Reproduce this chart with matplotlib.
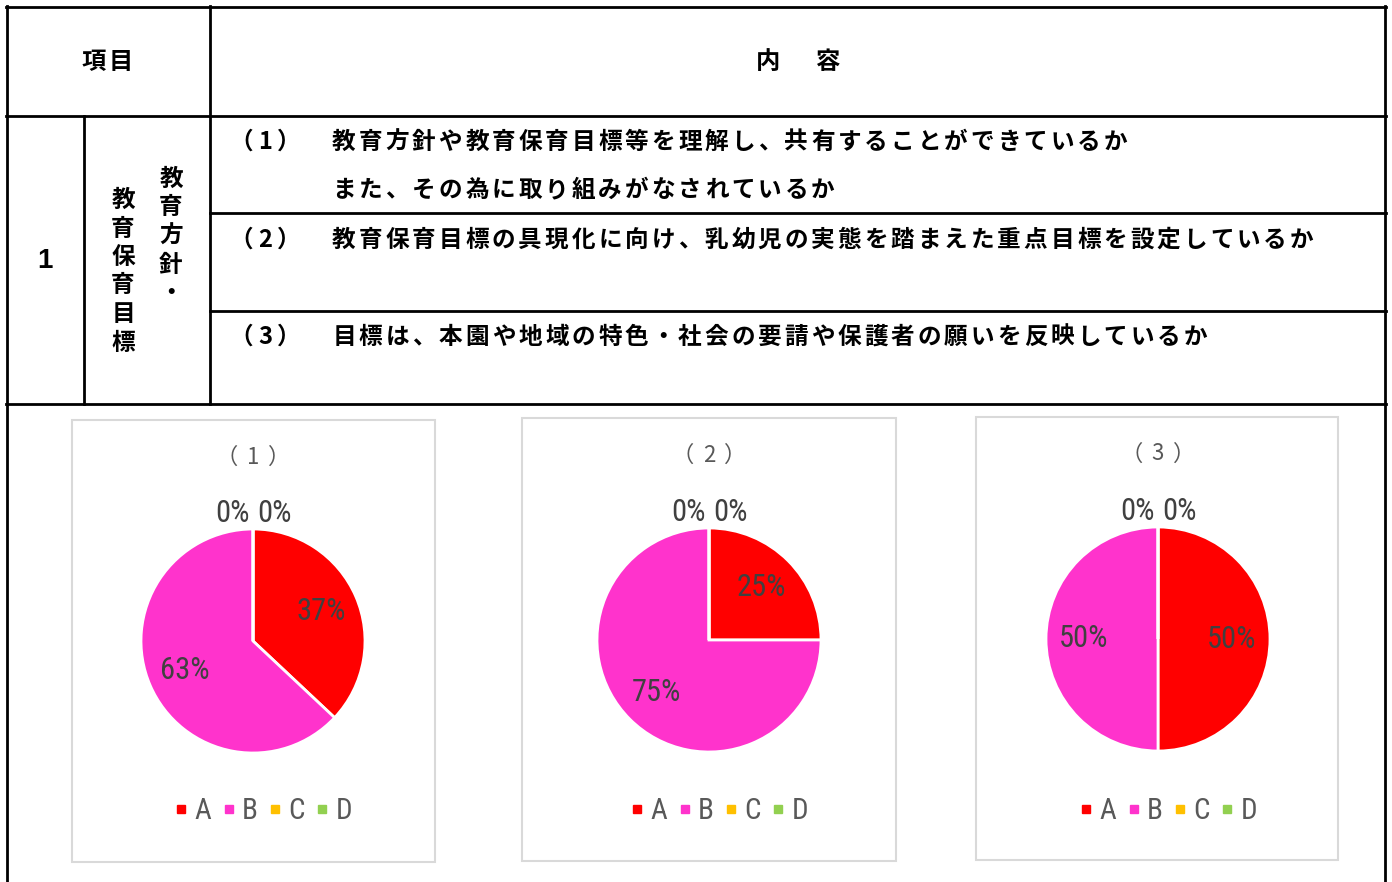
import matplotlib
matplotlib.use("Agg")
import numpy as np
import matplotlib.pyplot as plt
from matplotlib.patches import Rectangle
from matplotlib.lines import Line2D

plt.rcParams['font.family'] = ['Noto Sans CJK JP', 'DejaVu Sans']

# ── データ ──────────────────────────────────────────
categories = ["A", "B", "C", "D"]
colors = ["#FF0000", "#FF33CC", "#FFC000", "#92D050"]
pie_titles = ["（1）", "（2）", "（3）"]
vals_1 = [37, 63, 0, 0]
vals_2 = [25, 75, 0, 0]
vals_3 = [50, 50, 0, 0]

header_item = "項目"
header_content = "内　容"
row_no = "1"
row_col_right = "教育方針・"
row_col_left = "教育保育目標"
q_nums = ["（1）", "（2）", "（3）"]
q_lines = [
    ["教育方針や教育保育目標等を理解し、共有することができているか",
     "また、その為に取り組みがなされているか"],
    ["教育保育目標の具現化に向け、乳幼児の実態を踏まえた重点目標を設定しているか"],
    ["目標は、本園や地域の特色・社会の要請や保護者の願いを反映しているか"],
]

W, H = 1392, 882
fig = plt.figure(figsize=(W / 100, H / 100), dpi=100)
bg = fig.add_axes([0, 0, 1, 1])
bg.set_xlim(0, W)
bg.set_ylim(H, 0)
bg.axis("off")

# ── 表の罫線 ────────────────────────────────────────
def hline(y, x0, x1):
    bg.add_line(Line2D([x0, x1], [y, y], color="black", lw=2))

def vline(x, y0, y1):
    bg.add_line(Line2D([x, x], [y0, y1], color="black", lw=2))

hline(7, 6, 1386)
hline(116, 6, 1386)
hline(404, 6, 1386)
hline(213, 210, 1386)
hline(311, 210, 1386)
vline(7, 6, H)
vline(1385, 6, H)
vline(210, 6, 404)
vline(84, 116, 404)

TXT = dict(fontsize=17, fontweight="bold", color="black", va="center", ha="center")

def spaced(text, x0, y, pitch=26.6, **kw):
    # 文字間隔を広げて一文字ずつ配置
    style = dict(TXT, **kw)
    for i, ch in enumerate(text):
        bg.text(x0 + i * pitch, y, ch, **style)

spaced(header_item, 94, 62, pitch=27, fontsize=17.5)
spaced(header_content, 768, 62, pitch=30, fontsize=17.5)
bg.text(45, 261, row_no, fontsize=20, fontweight="bold", ha="center", va="center",
        family=["Liberation Sans", "DejaVu Sans"])

for i, ch in enumerate(row_col_right):
    bg.text(171, 179 + i * 28.5, ch, **TXT)
for i, ch in enumerate(row_col_left):
    bg.text(123, 200 + i * 28.5, ch, **TXT)

row_y = [142, 240, 337]
for num, lines, y in zip(q_nums, q_lines, row_y):
    spaced(num, 241, y, pitch=24)
    for j, line in enumerate(lines):
        spaced(line, 344, y + j * 48)

# ── 円グラフ ────────────────────────────────────────
boxes = [(72, 420, 435, 862), (522, 418, 896, 861), (976, 417, 1338, 860)]
centers = [(253, 641), (709, 640), (1158, 639)]
R = 112
NARROW = dict(family=["Roboto Condensed", "Liberation Sans Narrow", "DejaVu Sans"],
              stretch="condensed")
GRAY = "#404040"

for vals, title, box, (cx, cy) in zip([vals_1, vals_2, vals_3], pie_titles, boxes, centers):
    x0, y0, x1, y1 = box
    bg.add_patch(Rectangle((x0, y0), x1 - x0, y1 - y0, facecolor="white",
                           edgecolor="#D9D9D9", lw=1.5))
    spaced(title, cx - 26, y0 + 37, pitch=26, fontsize=16, fontweight="normal",
           color="#595959")

    s = 2 * R * 1.3
    ax = fig.add_axes([(cx - s / 2) / W, 1 - (cy + s / 2) / H, s / W, s / H])
    wedges, _ = ax.pie(vals, colors=colors, startangle=90, counterclock=False,
                       radius=1, wedgeprops=dict(edgecolor="white", linewidth=2))
    ax.set_xlim(-1.3, 1.3)
    ax.set_ylim(-1.3, 1.3)
    ax.set_aspect("equal")
    ax.axis("off")

    total = sum(vals)
    zero_k = 0
    for w, v in zip(wedges, vals):
        pct = f"{round(100 * v / total)}%"
        if v == 0:
            dx = -0.18 if zero_k == 0 else 0.19
            zero_k += 1
            ax.text(dx, 1.14, pct, fontsize=22, color=GRAY, ha="center", va="center",
                    **NARROW)
        else:
            mid = np.deg2rad((w.theta1 + w.theta2) / 2)
            ax.text(0.66 * np.cos(mid), 0.66 * np.sin(mid), pct, fontsize=22,
                    color=GRAY, ha="center", va="center", **NARROW)

    handles = [Line2D([], [], marker="s", ls="", color=c, markersize=6) for c in colors]
    leg = ax.legend(handles, categories, loc="center", ncol=4, frameon=False,
                    bbox_to_anchor=((cx + 10) / W, 1 - 811 / H),
                    bbox_transform=fig.transFigure,
                    handlelength=0.5, handletextpad=0.2, columnspacing=0.35,
                    prop=dict(size=21, **NARROW))
    for t in leg.get_texts():
        t.set_color("#595959")

fig.savefig("out.png", dpi=100)
